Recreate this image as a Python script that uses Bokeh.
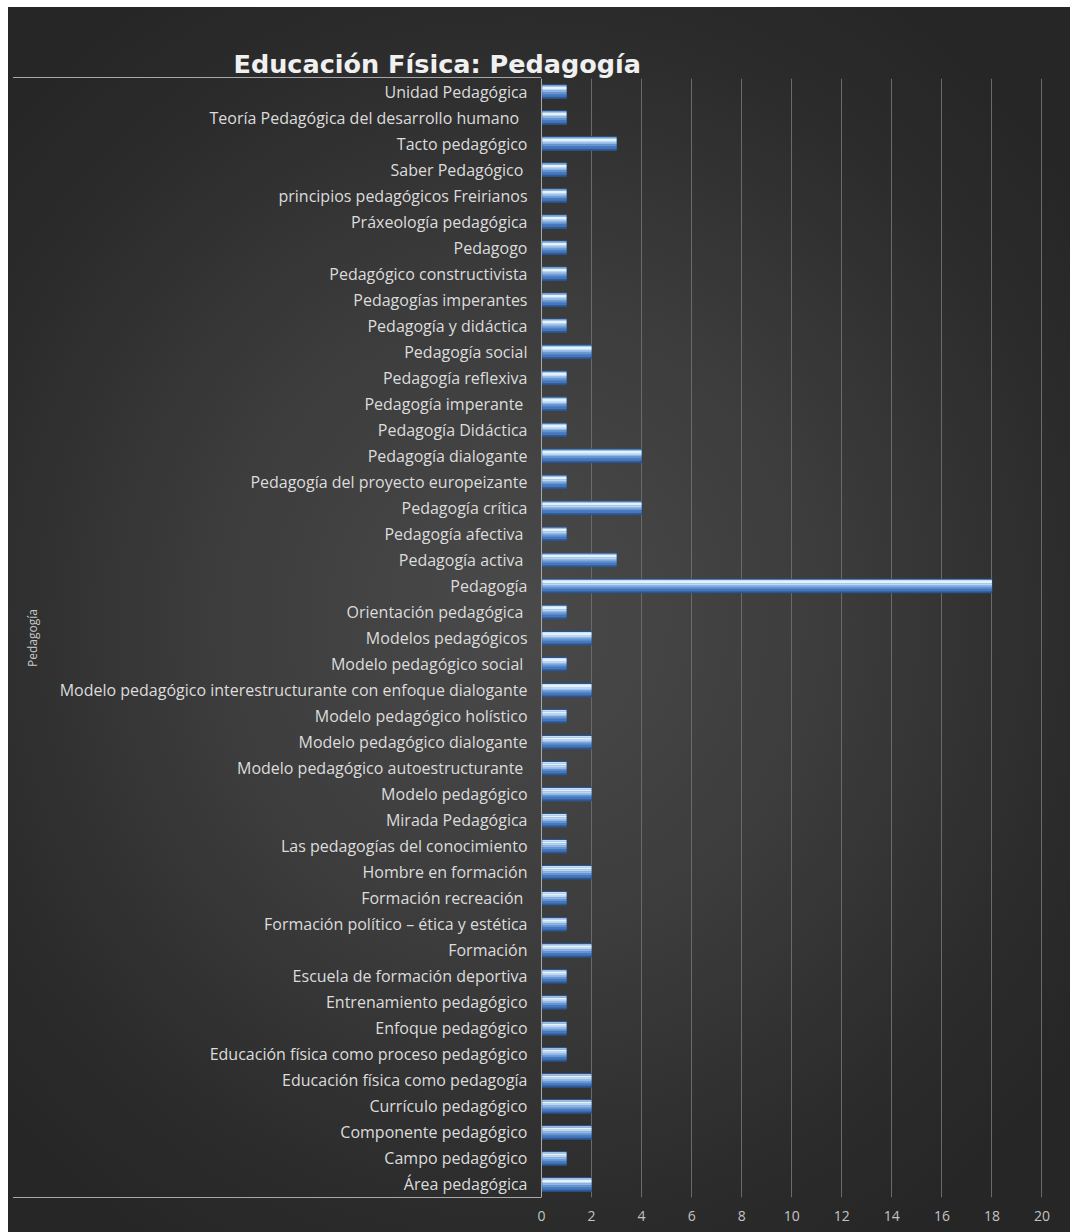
from bokeh.plotting import figure
from bokeh.models import ColumnDataSource, FactorRange, Range1d, FixedTicker
from bokeh.transform import dodge
from bokeh.embed import file_html
from bokeh.resources import INLINE

title_text = "Educación  Física: Pedagogía"
axis_title = "Pedagogía"

# categories listed bottom -> top (as in the chart's axis order)
categories = [
    "Área pedagógica", "Campo pedagógico", "Componente pedagógico", "Currículo pedagógico",
    "Educación física como pedagogía", "Educación física como proceso pedagógico",
    "Enfoque pedagógico", "Entrenamiento pedagógico", "Escuela de formación deportiva",
    "Formación", "Formación político – ética y estética", "Formación recreación ",
    "Hombre en formación", "Las pedagogías del conocimiento", "Mirada Pedagógica",
    "Modelo pedagógico", "Modelo pedagógico autoestructurante ", "Modelo pedagógico dialogante",
    "Modelo pedagógico holístico", "Modelo pedagógico interestructurante con enfoque dialogante",
    "Modelo pedagógico social ", "Modelos pedagógicos", "Orientación pedagógica ",
    "Pedagogía", "Pedagogía activa ", "Pedagogía afectiva ", "Pedagogía crítica",
    "Pedagogía del proyecto europeizante", "Pedagogía dialogante", "Pedagogía Didáctica",
    "Pedagogía imperante ", "Pedagogía reflexiva", "Pedagogía social", "Pedagogía y didáctica",
    "Pedagogías imperantes", "Pedagógico constructivista", "Pedagogo", "Práxeología pedagógica",
    "principios pedagógicos Freirianos", "Saber Pedagógico ", "Tacto pedagógico",
    "Teoría  Pedagógica del desarrollo humano ", "Unidad Pedagógica",
]
values = [
    2, 1, 2, 2,
    2, 1,
    1, 1, 1,
    2, 1, 1,
    2, 1, 1,
    2, 1, 2,
    1, 2,
    1, 2, 1,
    18, 3, 1, 4,
    1, 4, 1,
    1, 1, 2, 1,
    1, 1, 1, 1,
    1, 1, 3,
    1, 1,
]
x_ticks = [0, 2, 4, 6, 8, 10, 12, 14, 16, 18, 20]

source = ColumnDataSource(data=dict(cat=categories, val=values))

p = figure(
    width=1062, height=1225,
    y_range=FactorRange(*categories),
    x_range=Range1d(0, 20.5),
    output_backend="svg", toolbar_location=None,
    min_border_left=533, min_border_right=16, min_border_top=71, min_border_bottom=35,
)
line_col = "#a8a8a8"
p.styles = {
    "margin-left": "8px",
    "margin-top": "7px",
    "background": (
        f"linear-gradient({line_col},{line_col}) 5px 70px / 528px 1px no-repeat, "
        f"linear-gradient({line_col},{line_col}) 5px 1190px / 528px 1px no-repeat, "
        "radial-gradient(ellipse 65% 60% at 48% 50%, #4a4a4a 0%, #3c3c3c 45%, #2c2c2c 80%, #262626 100%)"
    ),
}
p.background_fill_alpha = 0
p.border_fill_alpha = 0
p.outline_line_color = None

# bars: glossy look built from stacked horizontal strips (offset, height, colour)
p.hbar(y=dodge("cat", 0.0, range=p.y_range), left=0, right="val", height=0.52,
       source=source, fill_color="#2f5e9e", line_color="#2a5590", line_width=1)
strips = [
    (-0.15, 0.10, "#4677bb"),
    (-0.065, 0.08, "#6694d2"),
    (0.005, 0.07, "#8fb8e7"),
    (0.07, 0.07, "#bad8f6"),
    (0.145, 0.09, "#e3f2ff"),
    (0.215, 0.04, "#c6e0f9"),
]
for off, h, col in strips:
    p.hbar(y=dodge("cat", off, range=p.y_range), left=0.03, right="val", height=h,
           source=source, fill_color=col, line_color=None)

# grid / axes
p.ygrid.grid_line_color = None
p.xgrid.grid_line_color = "#6a6a6a"
p.xgrid.grid_line_width = 1
p.xaxis.ticker = FixedTicker(ticks=x_ticks)
p.xaxis.axis_line_color = None
p.xaxis.major_tick_line_color = None
p.xaxis.minor_tick_line_color = None
p.xaxis.major_label_text_color = "#c4c4c4"
p.xaxis.major_label_text_font = "Open Sans"
p.xaxis.major_label_text_font_size = "14px"
p.xaxis.major_label_standoff = 7

p.yaxis.axis_line_color = line_col
p.yaxis.major_tick_line_color = None
p.yaxis.minor_tick_line_color = None
p.yaxis.major_label_text_color = "#dcdcdc"
p.yaxis.major_label_text_font = "Open Sans"
p.yaxis.major_label_text_font_size = "16px"
p.yaxis.major_label_standoff = 8
p.yaxis.axis_label = axis_title
p.yaxis.axis_label_text_font = "Open Sans"
p.yaxis.axis_label_text_font_size = "12px"
p.yaxis.axis_label_text_font_style = "normal"
p.yaxis.axis_label_text_color = "#c8c8c8"
p.yaxis.axis_label_standoff = 16

p.title.text = title_text
p.title.text_font = "DejaVu Sans"
p.title.text_font_size = "25.5px"
p.title.text_font_style = "bold"
p.title.text_color = "#f0f0f0"
p.title.align = "left"
p.title.offset = -308
p.title.standoff = 0

open("out.html", "w").write(file_html(p, INLINE))
